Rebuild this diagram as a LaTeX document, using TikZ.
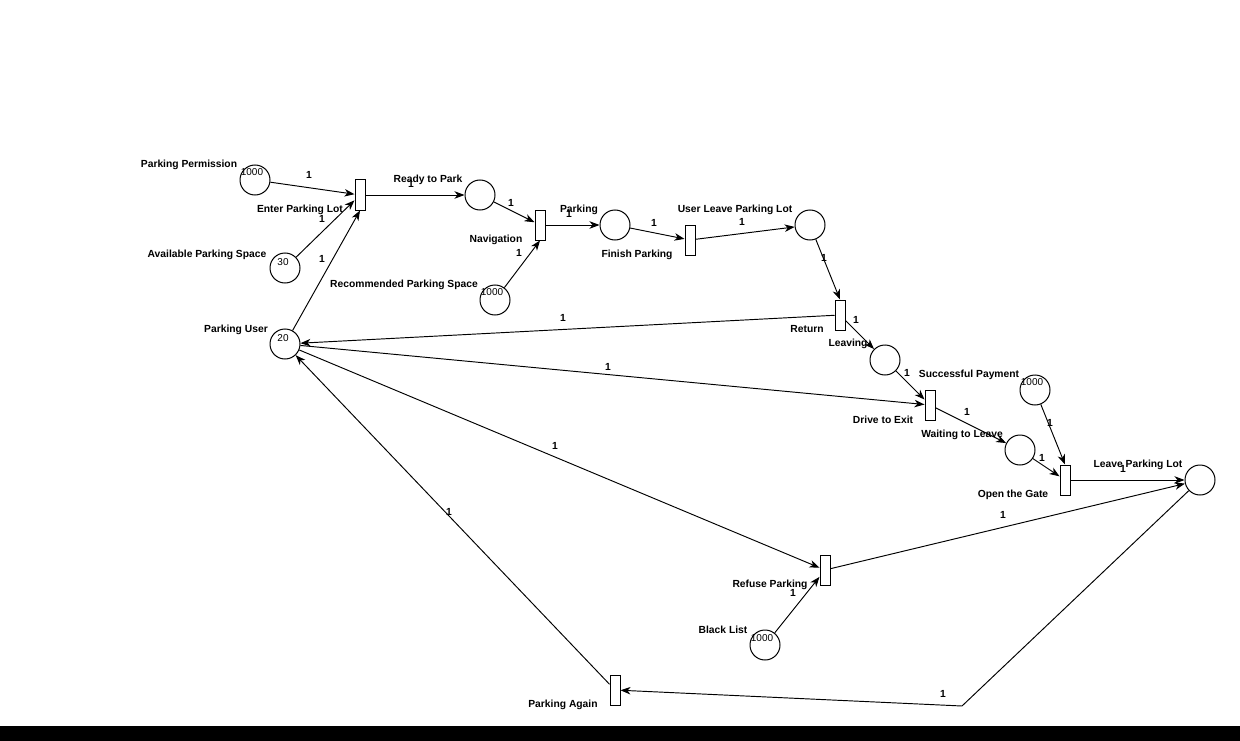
\documentclass[tikz,border=0pt]{standalone}
\usepackage{fontspec}
\setmainfont{Liberation Sans}
\usetikzlibrary{arrows.meta}
\tikzset{
  place/.style={circle, draw, line width=1pt, minimum size=30pt, inner sep=0pt},
  trans/.style={rectangle, draw, line width=1pt, minimum width=10pt, minimum height=30pt, inner sep=0pt},
  lbl/.style={font=\fontsize{10.3}{12}\selectfont\bfseries, inner sep=0pt, yshift=-1.5pt},
  tok/.style={font=\fontsize{10}{12}\selectfont, inner sep=0pt, yshift=-1pt},
  wt/.style={font=\fontsize{10.3}{12}\selectfont\bfseries, inner sep=0pt, yshift=-1pt},
  flow/.style={draw, line width=0.95pt, -{Stealth[length=10pt,width=7.5pt,inset=3pt]}},
}
\begin{document}
\begin{tikzpicture}[x=1pt, y=-1pt]
\useasboundingbox (0,0) rectangle (1240,741);
\fill[white] (0,0) rectangle (1240,741);
\fill[black] (0,726) rectangle (1240,741);

% places
\node[place] (P1)  at (255,180) {};
\node[place] (P2)  at (285,268) {};
\node[place] (PU)  at (285,344) {};
\node[place] (RP)  at (480,195) {};
\node[place] (RPS) at (495,300) {};
\node[place] (PK)  at (615,225) {};
\node[place] (UL)  at (810,225) {};
\node[place] (LV)  at (885,360) {};
\node[place] (SP)  at (1035,390) {};
\node[place] (WL)  at (1020,450) {};
\node[place] (LP)  at (1200,480) {};
\node[place] (BL)  at (765,645) {};

% transitions
\node[trans] (T1) at (360,195) {};
\node[trans] (T2) at (540,225) {};
\node[trans] (T3) at (690,240) {};
\node[trans] (T4) at (840,315) {};
\node[trans] (T5) at (930,405) {};
\node[trans] (T6) at (1065,480) {};
\node[trans] (T7) at (825,570) {};
\node[trans] (T8) at (615,690) {};
\coordinate (bend) at (962,706);

% tokens
\node[tok] (k1) at (252,171) {1000};
\node[tok] (k2) at (283,261) {30};
\node[tok] (k3) at (283,337) {20};
\node[tok] (k4) at (492,291) {1000};
\node[tok] (k5) at (1032,381) {1000};
\node[tok] (k6) at (762,637) {1000};

% names
\node[lbl] (n1)  at (189,163) {Parking Permission};
\node[lbl] (n2)  at (300,208) {Enter Parking Lot};
\node[lbl] (n3)  at (207,253) {Available Parking Space};
\node[lbl] (n4)  at (236,328) {Parking User};
\node[lbl] (n5)  at (428,178) {Ready to Park};
\node[lbl] (n6)  at (496,238) {Navigation};
\node[lbl] (n7)  at (404,283) {Recommended Parking Space};
\node[lbl] (n8)  at (579,208) {Parking};
\node[lbl] (n9)  at (637,253) {Finish Parking};
\node[lbl] (n10) at (735,208) {User Leave Parking Lot};
\node[lbl] (n11) at (807,328) {Return};
\node[lbl] (n12) at (848,342) {Leaving};
\node[lbl] (n13) at (969,373) {Successful Payment};
\node[lbl] (n14) at (883,418) {Drive to Exit};
\node[lbl] (n15) at (962,433) {Waiting to Leave};
\node[lbl] (n16) at (1013,493) {Open the Gate};
\node[lbl] (n17) at (1138,463) {Leave Parking Lot};
\node[lbl] (n18) at (770,583) {Refuse Parking};
\node[lbl] (n19) at (723,628) {Black List};
\node[lbl] (n20) at (563,703) {Parking Again};

% arcs
\draw[flow] (P1) -- (T1);
\draw[flow] (P2) -- (T1);
\draw[flow] (PU) -- (T1.south);
\draw[flow] (T1) -- (RP);
\draw[flow] (RP) -- (T2);
\draw[flow] (RPS) -- (T2.south);
\draw[flow] (T2) -- (PK);
\draw[flow] (PK) -- (T3);
\draw[flow] (T3) -- (UL);
\draw[flow] (UL) -- (T4.north);
\draw[flow] (T4) -- (PU);
\draw[flow] (T4) -- (LV);
\draw[flow] (PU) -- (T5);
\draw[flow] (LV) -- (T5);
\draw[flow] (T5) -- (WL);
\draw[flow] (SP) -- (T6.north);
\draw[flow] (WL) -- (T6);
\draw[flow] (T6) -- (LP);
\draw[flow] (PU) -- (T7);
\draw[flow] (BL) -- (T7);
\draw[flow] (T7) -- (LP);
\draw[flow] (LP) -- (bend) -- (T8);
\draw[flow] (T8) -- (PU);

% weights
\node[wt] (w1)  at (309,174) {1};
\node[wt] (w2)  at (322,218) {1};
\node[wt] (w3)  at (322,258) {1};
\node[wt] (w4)  at (411,183) {1};
\node[wt] (w5)  at (511,202) {1};
\node[wt] (w6)  at (519,252) {1};
\node[wt] (w7)  at (569,213) {1};
\node[wt] (w8)  at (654,222) {1};
\node[wt] (w9)  at (742,221) {1};
\node[wt] (w10) at (824,257) {1};
\node[wt] (w11) at (563,317) {1};
\node[wt] (w12) at (856,319) {1};
\node[wt] (w13) at (608,366) {1};
\node[wt] (w14) at (907,372) {1};
\node[wt] (w15) at (967,411) {1};
\node[wt] (w16) at (1050,422) {1};
\node[wt] (w17) at (1042,457) {1};
\node[wt] (w18) at (1123,468) {1};
\node[wt] (w19) at (555,445) {1};
\node[wt] (w20) at (793,592) {1};
\node[wt] (w21) at (1003,514) {1};
\node[wt] (w22) at (943,693) {1};
\node[wt] (w23) at (449,511) {1};
\end{tikzpicture}
\end{document}
